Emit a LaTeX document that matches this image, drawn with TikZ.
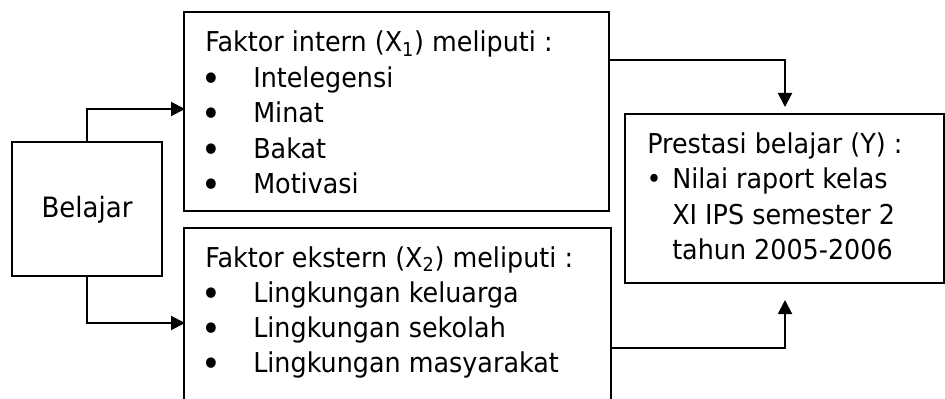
\documentclass[tikz,border=0pt]{standalone}
\usepackage{fontspec}
\setmainfont{DejaVu Sans}[FakeStretch=0.93]
\usetikzlibrary{arrows.meta}
\begin{document}
\begin{tikzpicture}[x=0.75pt,y=-0.75pt,
  box/.style={draw,line width=1.5pt},
  conn/.style={line width=1.5pt,-{Triangle[length=10.5pt,width=10.5pt]}},
  txt/.style={inner sep=0pt,anchor=base west,font=\fontsize{20.5pt}{24pt}\selectfont},
  dot/.style={inner sep=0pt,anchor=base,font=\fontsize{20.5pt}{24pt}\selectfont},
  bigdot/.style={inner sep=0pt,anchor=base,font=\fontsize{27pt}{30pt}\selectfont}]
\useasboundingbox (0,0) rectangle (945,399);
% boxes
\draw[box] (12,142) rectangle (162,276);
\coordinate (belN) at (87,142);
\coordinate (belS) at (87,276);
\draw[box] (184,12) rectangle (609,211);
\draw[box] (184,410) -- (184,228) -- (611,228) -- (611,410);
\draw[box] (625,114) rectangle (944,283);
% texts
\node[inner sep=0pt,anchor=base,font=\fontsize{21pt}{24pt}\selectfont] (tb) at (87,217) {Belajar};
\node[txt] (i0) at (205,52) {Faktor intern (X\textsubscript{1}) meliputi :};
\foreach \t/\y [count=\k] in {Intelegensi/88,Minat/123,Bakat/158,Motivasi/193}{
  \node[bigdot] (ib\k) at (211,\y+4) {•};
  \node[txt] (i\k) at (253,\y) {\t};
}
\node[txt] (e0) at (205,267) {Faktor ekstern (X\textsubscript{2}) meliputi :};
\foreach \t/\y [count=\k] in {Lingkungan keluarga/302,Lingkungan sekolah/337,Lingkungan masyarakat/372}{
  \node[bigdot] (eb\k) at (211,\y+4) {•};
  \node[txt] (e\k) at (253,\y) {\t};
}
\node[txt] (p0) at (647,154) {Prestasi belajar (Y) :};
\node[dot] (pb) at (654,189) {•};
\node[txt] (p1) at (672,189) {Nilai raport kelas};
\node[txt] (p2) at (672,224) {XI IPS semester 2};
\node[txt] (p3) at (672,259) {tahun 2005-2006};
% connectors
\coordinate (inW) at (185,109);
\coordinate (exW) at (185,323);
\coordinate (inE) at (609,60);
\coordinate (exE) at (611,348);
\coordinate (prN) at (785,107);
\coordinate (prS) at (785,300);
\draw[conn] (belN) |- (inW);
\draw[conn] (belS) |- (exW);
\draw[conn] (inE) -| (prN);
\draw[conn] (exE) -| (prS);
\end{tikzpicture}
\end{document}
